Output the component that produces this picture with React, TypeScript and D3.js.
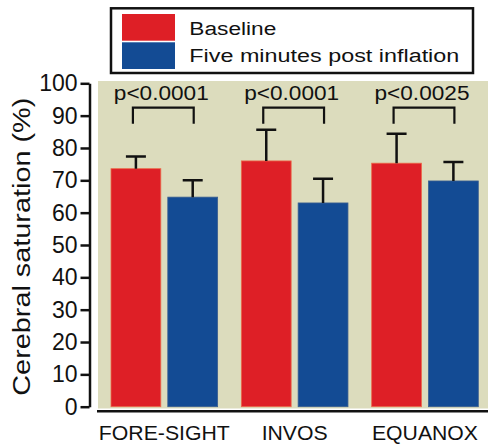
import React, { useEffect, useRef } from 'react';
import * as d3 from 'd3';

// chart data
const devices = ['FORE-SIGHT', 'INVOS', 'EQUANOX'];
const seriesNames = ['Baseline', 'Five minutes post inflation'];
const baselineMean = [73.6, 76.0, 75.3];
const baselineSd = [3.8, 9.6, 9.1];
const postMean = [64.8, 63.0, 69.8];
const postSd = [5.2, 7.5, 5.9];
const pValues = ['p<0.0001', 'p<0.0001', 'p<0.0025'];
const yTicks = [0, 10, 20, 30, 40, 50, 60, 70, 80, 90, 100];
const bracketTop = 92.5;
const bracketFoot = 87.5;
const pLabelLevel = 94.8;

const colors = ['#de1f26', '#134b94'];
const FONT = "'Liberation Sans', Arial, sans-serif";

const App = () => {
  const svgRef = useRef(null);

  useEffect(() => {
    drawChart();
    // eslint-disable-next-line react-hooks/exhaustive-deps
  }, []);

  const drawChart = () => {
    const svg = d3.select(svgRef.current);
    svg.selectAll('*').remove();

    const y = d3.scaleLinear().domain([0, 100]).range([406.7, 83.3]);
    const x0 = d3
      .scaleBand()
      .domain(devices)
      .range([111, 478.3])
      .paddingInner(0.182)
      .paddingOuter(0);
    const x1 = d3
      .scaleBand()
      .domain(seriesNames)
      .range([0, x0.bandwidth()])
      .paddingInner(0.123);

    const rows = devices.map((d, i) => ({
      device: d,
      values: [
        { key: seriesNames[0], mean: baselineMean[i], sd: baselineSd[i] },
        { key: seriesNames[1], mean: postMean[i], sd: postSd[i] },
      ],
    }));

    // background panel
    svg
      .append('rect')
      .attr('x', 98)
      .attr('y', 81)
      .attr('width', 390)
      .attr('height', 327.5)
      .attr('fill', '#dcdcbd');

    // bars + error bars
    const groups = svg
      .selectAll('.group')
      .data(rows)
      .enter()
      .append('g')
      .attr('class', 'group')
      .attr('transform', (d) => `translate(${x0(d.device)},0)`);

    groups
      .selectAll('.bar')
      .data((d) => d.values)
      .enter()
      .append('rect')
      .attr('class', 'bar')
      .attr('x', (d) => x1(d.key))
      .attr('y', (d) => y(d.mean))
      .attr('width', x1.bandwidth())
      .attr('height', (d) => y(0) - y(d.mean))
      .attr('fill', (d, i) => colors[i])
      .attr('stroke', (d, i) => (i === 0 ? '#ec6a4a' : '#3b5e8f'))
      .attr('stroke-width', 0.8);

    const cx = (d) => x1(d.key) + x1.bandwidth() / 2;

    groups
      .selectAll('.err')
      .data((d) => d.values)
      .enter()
      .append('path')
      .attr('class', 'err')
      .attr('fill', 'none')
      .attr('stroke', '#111')
      .attr('stroke-width', 2.5)
      .attr('d', (d) => {
        const top = y(d.mean + d.sd);
        return `M${cx(d)},${y(d.mean)}V${top}M${cx(d) - 10},${top}H${cx(d) + 10}`;
      });

    // significance brackets
    groups
      .append('path')
      .attr('fill', 'none')
      .attr('stroke', '#111')
      .attr('stroke-width', 2.2)
      .attr('d', (d) => {
        const a = cx(d.values[0]) - 3;
        const b = cx(d.values[1]) + 1;
        return `M${a},${y(bracketFoot)}V${y(bracketTop)}H${b}V${y(bracketFoot)}`;
      });

    groups
      .append('text')
      .attr('x', x0.bandwidth() / 2 - 3)
      .attr('y', y(pLabelLevel))
      .attr('text-anchor', 'middle')
      .attr('font-family', FONT)
      .attr('font-size', 19.6)
      .attr('textLength', 95)
      .attr('lengthAdjust', 'spacingAndGlyphs')
      .attr('fill', '#111')
      .text((d, i) => pValues[i]);

    // y axis
    const yAxis = d3
      .axisLeft(y)
      .tickValues(yTicks)
      .tickSize(9)
      .tickSizeOuter(0)
      .tickPadding(3)
      .tickFormat(d3.format('d'));

    const yg = svg
      .append('g')
      .attr('transform', 'translate(89.5,0)')
      .call(yAxis);
    yg.select('.domain').attr('stroke', '#111').attr('stroke-width', 2.5);
    yg.selectAll('.tick line').attr('stroke', '#111').attr('stroke-width', 2.5);
    yg.selectAll('.tick text')
      .attr('font-family', FONT)
      .attr('font-size', 23)
      .attr('fill', '#111');

    // x axis line
    svg
      .append('line')
      .attr('x1', 97)
      .attr('x2', 488)
      .attr('y1', 411.3)
      .attr('y2', 411.3)
      .attr('stroke', '#111')
      .attr('stroke-width', 2.5);

    const xLabelWidths = [131, 66, 106];
    svg
      .selectAll('.xlab')
      .data(devices)
      .enter()
      .append('text')
      .attr('class', 'xlab')
      .attr('x', (d) => x0(d) + x0.bandwidth() / 2)
      .attr('y', 440)
      .attr('text-anchor', 'middle')
      .attr('font-family', FONT)
      .attr('font-size', 21)
      .attr('textLength', (d, i) => xLabelWidths[i])
      .attr('lengthAdjust', 'spacingAndGlyphs')
      .attr('fill', '#111')
      .text((d) => d);

    // y title
    svg
      .append('text')
      .attr('transform', 'translate(30,246.7) rotate(-90)')
      .attr('text-anchor', 'middle')
      .attr('font-family', FONT)
      .attr('font-size', 23)
      .attr('textLength', 298)
      .attr('lengthAdjust', 'spacingAndGlyphs')
      .attr('fill', '#111')
      .text('Cerebral saturation (%)');

    // legend
    const legend = svg.append('g');
    legend
      .append('rect')
      .attr('x', 111)
      .attr('y', 8.3)
      .attr('width', 362)
      .attr('height', 64.7)
      .attr('fill', '#fff')
      .attr('stroke', '#111')
      .attr('stroke-width', 2.5);

    const legendWidths = [87, 270];
    seriesNames.forEach((name, i) => {
      legend
        .append('rect')
        .attr('x', 122)
        .attr('y', 14 + i * 28.3)
        .attr('width', 53)
        .attr('height', 26.7)
        .attr('fill', colors[i]);
      legend
        .append('text')
        .attr('x', 189.3)
        .attr('y', 34.7 + i * 27.5)
        .attr('font-family', FONT)
        .attr('font-size', 18.8)
        .attr('textLength', legendWidths[i])
        .attr('lengthAdjust', 'spacingAndGlyphs')
        .attr('fill', '#111')
        .text(name);
    });
  };

  return (
    <svg
      ref={svgRef}
      width={488}
      height={444}
      style={{ position: 'absolute', left: 0, top: 0, background: '#fff' }}
    />
  );
};

export default App;
